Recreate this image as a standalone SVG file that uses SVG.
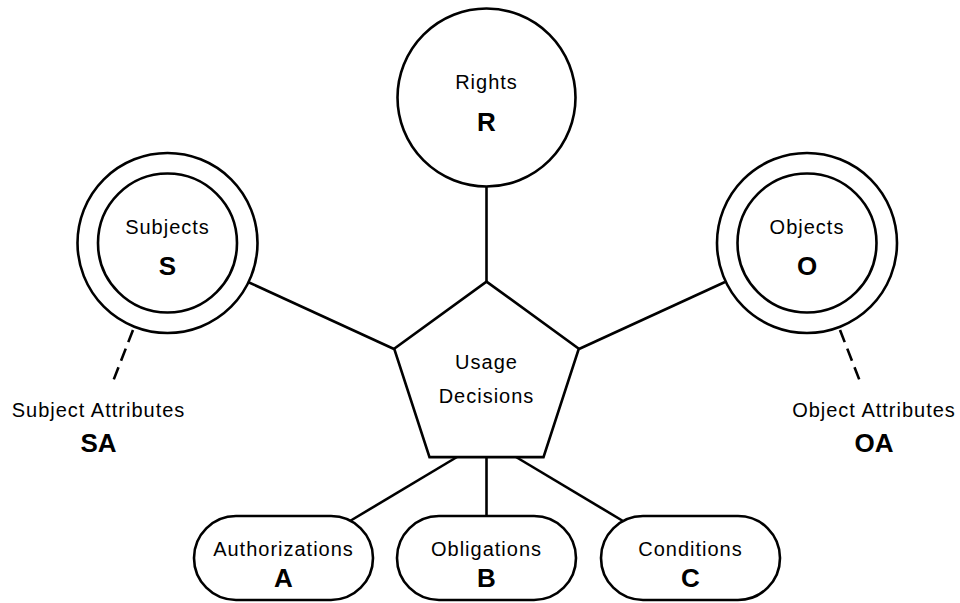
<svg xmlns="http://www.w3.org/2000/svg" width="960" height="603" viewBox="0 0 960 603">
<style>
.s{fill:#fff;stroke:#000;stroke-width:2.6}
.c{stroke:#000;stroke-width:2.6;fill:none}
.d{stroke:#000;stroke-width:2.6;fill:none;stroke-dasharray:13 7}
.t{font-family:"Liberation Sans",Arial,sans-serif;font-size:20px;letter-spacing:1px;text-anchor:middle;fill:#000}
.b{font-family:"Liberation Sans",Arial,sans-serif;font-size:26px;font-weight:bold;text-anchor:middle;fill:#000}
</style>
<rect width="960" height="603" fill="#fff"/>
<g id="connectors">
<line class="c" x1="486.5" y1="187" x2="486.5" y2="282"/>
<line class="c" x1="248" y1="282" x2="394" y2="349"/>
<line class="c" x1="725" y1="282" x2="579" y2="349"/>
<line class="c" x1="457" y1="457" x2="350" y2="521"/>
<line class="c" x1="486.5" y1="457" x2="486.5" y2="516"/>
<line class="c" x1="516" y1="457" x2="623" y2="521"/>
<line class="d" x1="133" y1="330" x2="112" y2="384"/>
<line class="d" x1="840" y1="330" x2="861" y2="384"/>
</g>
<g id="rights">
<circle class="s" cx="486.5" cy="97.5" r="89"/>
<text class="t" x="486.5" y="89">Rights</text>
<text class="b" x="486.5" y="131">R</text>
</g>
<g id="subjects">
<circle class="s" cx="167.5" cy="243" r="90"/>
<circle class="s" cx="167.5" cy="243" r="69.5"/>
<text class="t" x="167.5" y="234">Subjects</text>
<text class="b" x="167.5" y="275">S</text>
</g>
<g id="objects">
<circle class="s" cx="807" cy="243" r="90"/>
<circle class="s" cx="807" cy="243" r="69.5"/>
<text class="t" x="807" y="234">Objects</text>
<text class="b" x="807" y="275">O</text>
</g>
<g id="usage">
<polygon class="s" points="486.5,281.6 578.8,348.7 543.5,457.1 429.5,457.1 394.2,348.7"/>
<text class="t" x="486.5" y="369">Usage</text>
<text class="t" x="486.5" y="403">Decisions</text>
</g>
<g id="subject-attributes">
<text class="t" x="98.5" y="417">Subject Attributes</text>
<text class="b" x="98.5" y="452">SA</text>
</g>
<g id="object-attributes">
<text class="t" x="874" y="417">Object Attributes</text>
<text class="b" x="874" y="452">OA</text>
</g>
<g id="authorizations">
<rect class="s" x="194" y="516" width="179" height="84" rx="42" ry="42"/>
<text class="t" x="283.5" y="556">Authorizations</text>
<text class="b" x="283.5" y="587">A</text>
</g>
<g id="obligations">
<rect class="s" x="397" y="516" width="179" height="84" rx="42" ry="42"/>
<text class="t" x="486.5" y="556">Obligations</text>
<text class="b" x="486.5" y="587">B</text>
</g>
<g id="conditions">
<rect class="s" x="601" y="516" width="179" height="84" rx="42" ry="42"/>
<text class="t" x="690.5" y="556">Conditions</text>
<text class="b" x="690.5" y="587">C</text>
</g>
</svg>
